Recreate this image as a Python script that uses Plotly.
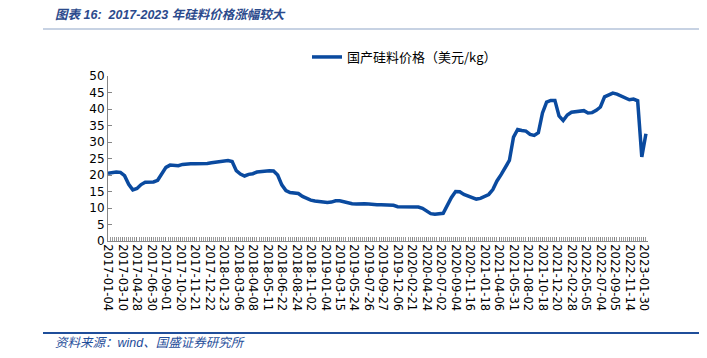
import plotly.graph_objects as go

# Category-axis tick labels (one every 7 weekly observations)
tick_labels = [
    "2017-01-04", "2017-03-10", "2017-04-28", "2017-06-30", "2017-09-01", "2017-10-20",
    "2017-11-21", "2017-12-22", "2018-01-23", "2018-03-06", "2018-04-08", "2018-05-11",
    "2018-06-22", "2018-08-24", "2018-11-02", "2019-01-04", "2019-03-15", "2019-05-24",
    "2019-07-26", "2019-09-27", "2019-12-06", "2020-02-21", "2020-04-24", "2020-07-02",
    "2020-09-04", "2020-11-16", "2021-01-18", "2021-04-06", "2021-05-31", "2021-08-02",
    "2021-10-18", "2021-12-20", "2022-02-28", "2022-05-05", "2022-07-04", "2022-09-05",
    "2022-11-14", "2023-01-30",
]
label_step = 7      # observations between labelled ticks
sample_step = 2     # observations between the values read below
n_categories = 262  # observations on the category axis

# Domestic polysilicon price (USD/kg), read every 2nd observation
price = [
    20.5, 20.7, 20.9, 20.8, 19.8, 17.2, 15.5, 15.9, 17.1, 17.8,
    17.9, 17.9, 18.4, 20.4, 22.3, 23.0, 22.8, 22.8, 23.2, 23.4,
    23.4, 23.4, 23.4, 23.5, 23.5, 23.7, 23.9, 24.0, 24.1, 24.4,
    24.1, 21.3, 20.3, 19.7, 20.2, 20.4, 20.9, 21.1, 21.3, 21.3,
    21.2, 20.0, 17.0, 15.3, 14.7, 14.6, 14.4, 13.5, 12.8, 12.4,
    12.1, 11.9, 11.8, 11.7, 11.8, 12.2, 12.2, 11.9, 11.5, 11.3,
    11.2, 11.3, 11.3, 11.2, 11.0, 11.0, 11.0, 11.0, 10.9, 10.8,
    10.4, 10.4, 10.5, 10.5, 10.4, 10.3, 9.9, 9.0, 8.3, 8.1,
    8.2, 8.4, 10.8, 13.2, 15.0, 14.9, 14.1, 13.7, 13.3, 12.7,
    12.9, 13.6, 14.1, 15.6, 18.2, 20.1, 22.1, 24.4, 31.5, 33.8,
    33.5, 33.3, 32.3, 32.0, 32.8, 38.8, 42.1, 42.6, 42.6, 37.9,
    36.5, 38.2, 39.0, 39.2, 39.4, 39.5, 38.8, 38.9, 39.6, 40.6,
    43.7, 44.2, 44.8, 44.5, 43.9, 43.2, 42.8, 43.0, 42.5, 25.5,
    32.5,
]

y_ticks = [0, 5, 10, 15, 20, 25, 30, 35, 40, 45, 50]

W, H = 707, 358
OFF = 8  # page body margin in the browser
# plot area in page pixels: x 108..648, y 76..241
L, R, T, B = 108 - OFF, W - (648 - OFF), 76 - OFF, H - (241 - OFF)
pw, ph = W - L - R, H - T - B


def px(x):
    return (x - OFF - L) / pw


def py(y):
    return (H - B - (y - OFF)) / ph


x_idx = [i * sample_step for i in range(len(price))]
tick_pos = [i * label_step for i in range(len(tick_labels))]

line_color = "#0A4A9F"
blue_text = "#1F4E9A"
axis_gray = "#868686"

fig = go.Figure()
fig.add_trace(go.Scatter(
    x=x_idx, y=price, mode="lines",
    line=dict(color=line_color, width=3.5),
    name="国产硅料价格（美元/kg）",
))

fig.update_layout(
    width=W, height=H,
    margin=dict(l=L, r=R, t=T, b=B, autoexpand=False),
    paper_bgcolor="white", plot_bgcolor="white",
    showlegend=True,
    legend=dict(
        orientation="h", x=px(307), xanchor="left", y=py(57), yanchor="middle",
        font=dict(family="Noto Sans CJK SC", size=13, color="#000000"),
        bgcolor="rgba(0,0,0,0)", itemwidth=30,
    ),
    xaxis=dict(
        range=[0, n_categories - 1], showgrid=False, zeroline=False,
        showline=True, linecolor=axis_gray, linewidth=1,
        tickmode="array", tickvals=tick_pos, ticktext=tick_labels,
        tickangle=90, ticks="inside", ticklen=4, tickcolor=axis_gray,
        tickfont=dict(family="DejaVu Sans", size=11.5, color="#000000"),
        minor=dict(dtick=1, tick0=0, ticks="inside", ticklen=4,
                   tickcolor="#9a9a9a", showgrid=False),
    ),
    yaxis=dict(
        range=[0, 50], showgrid=False, zeroline=False,
        showline=True, linecolor=axis_gray, linewidth=1,
        tickvals=y_ticks, ticks="inside", ticklen=4, tickcolor=axis_gray,
        tickfont=dict(family="DejaVu Sans", size=12, color="#000000"),
    ),
)

fig.add_annotation(
    x=px(53), y=py(15), xref="paper", yref="paper", xanchor="left", yanchor="middle",
    text="图表 16:  2017-2023 年硅料价格涨幅较大", showarrow=False,
    font=dict(family="Liberation Sans, Noto Sans CJK SC", size=12.5, color="#2B4A8C",
              style="italic", weight="bold"),
)
fig.add_annotation(
    x=px(53), y=py(343), xref="paper", yref="paper", xanchor="left", yanchor="middle",
    text="资料来源：wind、国盛证券研究所", showarrow=False,
    font=dict(family="Liberation Sans, Noto Sans CJK SC", size=12.5, color=blue_text,
              style="italic"),
)
fig.add_shape(type="line", xref="paper", yref="paper",
              x0=px(43), x1=px(720), y0=py(29), y1=py(29),
              line=dict(color="#8FA5C8", width=1.2))
fig.add_shape(type="line", xref="paper", yref="paper",
              x0=px(43), x1=px(720), y0=py(333), y1=py(333),
              line=dict(color=blue_text, width=1.8))

fig.write_html("out.html")
